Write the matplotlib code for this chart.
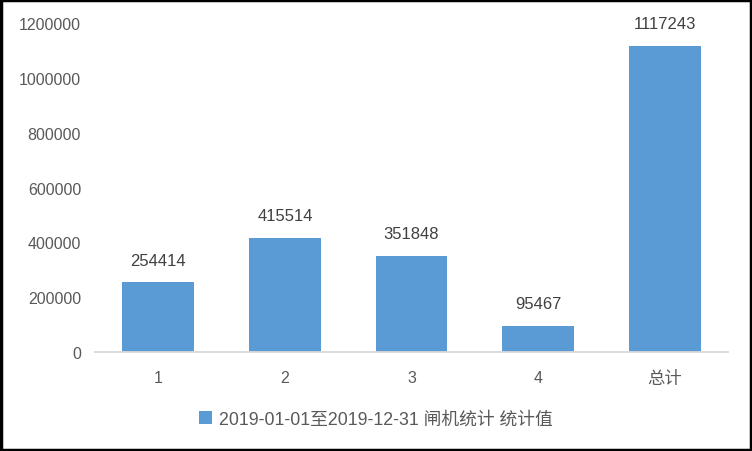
import matplotlib
matplotlib.use("Agg")
import matplotlib.pyplot as plt
from matplotlib.patches import Rectangle

categories = ["1", "2", "3", "4", "总计"]
values = [254414, 415514, 351848, 95467, 1117243]
series_name = "2019-01-01至2019-12-31 闸机统计 统计值"
yticks = [0, 200000, 400000, 600000, 800000, 1000000, 1200000]

plt.rcParams['font.family'] = ['Liberation Sans', 'Noto Sans CJK SC', 'DejaVu Sans']

fig = plt.figure(figsize=(7.52, 4.52), dpi=100)
ax = fig.add_axes([95/752, 1-353/452, (728-95)/752, (353-24)/452])

bar_color = "#5B9BD5"
x = list(range(len(categories)))
bars = ax.bar(x, values, width=0.567, color=bar_color, label=series_name, zorder=2)

for xi, v in zip(x, values):
    ax.annotate(str(v), (xi, v), xytext=(0, 10.5), textcoords="offset points",
                ha="center", va="bottom", fontsize=12, color="#404040")

ax.set_xlim(-0.5, len(categories) - 0.5)
ax.set_ylim(0, 1200000)
ax.set_yticks(yticks)
ax.set_yticklabels([str(t) for t in yticks])
ax.set_xticks(x)
ax.set_xticklabels(categories)
for lbl in ax.get_xticklabels():
    if not lbl.get_text().isdigit():
        lbl.set_fontsize(12.5)

for s in ["top", "right", "left"]:
    ax.spines[s].set_visible(False)
ax.spines["bottom"].set_color("#D9D9D9")
ax.spines["bottom"].set_linewidth(1.3)
ax.tick_params(axis="both", length=0, labelsize=11.5, labelcolor="#595959")
ax.tick_params(axis="y", pad=10)
ax.tick_params(axis="x", pad=13)
for lbl in ax.get_xticklabels():
    if not lbl.get_text().isdigit():
        lbl.set_fontsize(12.5)

leg = fig.legend(handles=[bars], labels=[series_name], loc="center",
                 bbox_to_anchor=(376/752, 1-420/452), frameon=False,
                 fontsize=12.8, handlelength=0.75, handleheight=0.75,
                 handletextpad=0.4)
for t in leg.get_texts():
    t.set_color("#595959")

fig.patches.append(Rectangle((0.0015, 0.002), 0.997, 0.996, transform=fig.transFigure,
                             fill=False, edgecolor="black", linewidth=2.5, zorder=10))

fig.savefig("out.png", dpi=100)
